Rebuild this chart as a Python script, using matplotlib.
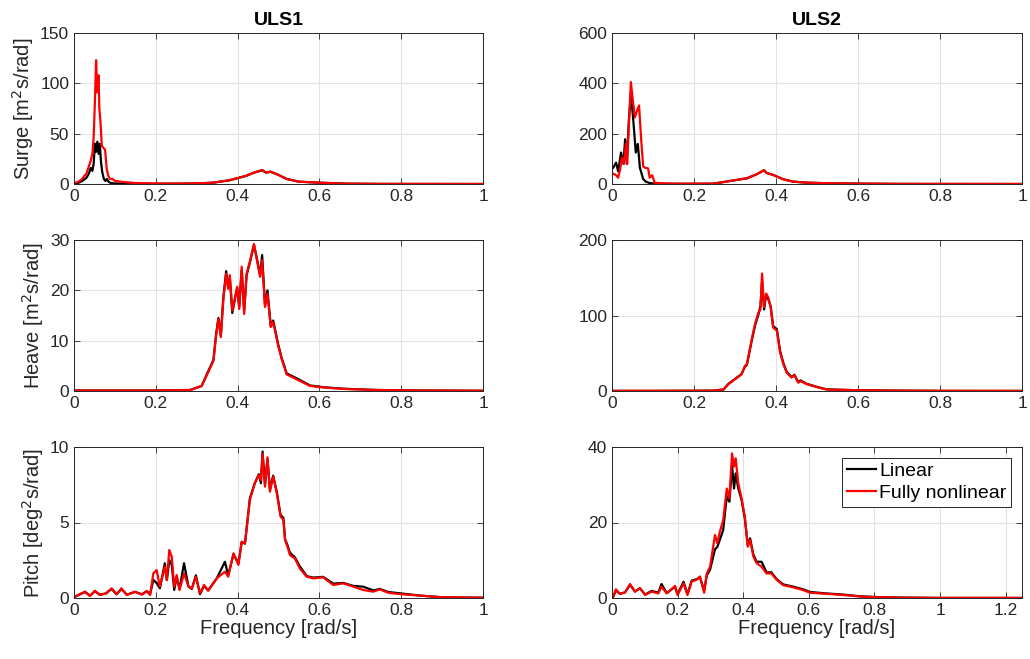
import matplotlib
matplotlib.use('Agg')
import matplotlib.pyplot as plt
from matplotlib.ticker import FuncFormatter, MultipleLocator

plt.rcParams['font.family'] = ['Liberation Sans', 'DejaVu Sans']

# ---- ULS1 surge ----
f_surge1_lin = [0, .01, .02, .03, .036, .041, .045, .048, .051, .054,
                .057, .060, .063, .066, .069, .073, .077, .08, .085, .09,
                .1, .12, .15, .2, .25, .3, .34, .38, .42, .44,
                .46, .47, .48, .5, .52, .55, .6, .67, .75, .85, 1.0]
surge1_lin = [.5, 1, 3, 6, 10, 16, 13, 20, 40, 32,
              42, 30, 40, 22, 12, 5, 3, 5, 2, 1,
              .5, .3, .2, .2, .3, .5, 1.3, 3.7, 8, 11.3,
              13.7, 11.3, 12.3, 9, 5, 2.3, 1.3, .3, .1, .05, .02]
f_surge1_nl = [0, .01, .02, .025, .03, .035, .04, .045, .048, .051,
               .054, .057, .060, .062, .065, .068, .072, .076, .08, .084,
               .088, .094, .1, .12, .15, .2, .25, .3, .34, .38,
               .42, .44, .46, .47, .48, .5, .52, .55, .6, .67, .75, .85, 1.0]
surge1_nl = [1, 2, 5, 8, 10, 16, 22, 30, 46, 80,
             123, 91, 108, 75, 60, 38, 36, 34, 15, 8,
             5, 5, 3, 2, 1, .5, .5, .6, 1.3, 3.7,
             8, 11.3, 13.7, 11.3, 12.3, 9, 5, 2.3, 1.3, .3, .1, .05, .02]

# ---- ULS2 surge ----
f_surge2_lin = [0, .003, .01, .015, .022, .028, .032, .036, .041, .046,
                .052, .058, .063, .068, .076, .082, .089, .1, .15, .2,
                .247, .288, .329, .353, .371, .377, .393, .418, .442, .475,
                .532, .613, .7, .8, 1.0]
surge2_lin = [60, 65, 85, 50, 125, 80, 178, 80, 250, 359,
              252, 125, 159, 65, 20, 10, 5, 2, 1, 1,
              1.3, 12, 22.7, 38.7, 54.7, 44, 36, 18.7, 9.3, 5.3,
              2.7, 1.3, .5, .2, .1]
f_surge2_nl = [0, .003, .01, .015, .02, .024, .029, .034, .037, .041,
               .046, .051, .056, .061, .066, .071, .076, .08, .088, .092,
               .098, .104, .12, .15, .2, .247, .288, .329, .353, .371,
               .377, .393, .418, .442, .475, .532, .613, .7, .8, 1.0]
surge2_nl = [40, 41, 35, 25, 60, 105, 80, 160, 80, 230,
             405, 330, 265, 290, 312, 180, 70, 65, 62, 25,
             35, 5, 3, 1, 1, 1.3, 12, 22.7, 38.7, 54.7,
             44, 36, 18.7, 9.3, 5.3, 2.7, 1.3, .5, .2, .1]

# ---- ULS1 heave ----
f_heave1 = [0, .1, .2, .284, .312, .328, .341, .347, .353, .359,
            .365, .372, .377, .381, .387, .394, .399, .404, .41, .416,
            .422, .43, .44, .448, .455, .46, .467, .473, .481, .487,
            .5, .508, .52, .545, .577, .61, .66, .74, .85, 1.0]
heave1_lin = [.1, .1, .1, .2, 1, 3.9, 6.2, 11, 14.5, 11,
              18.5, 23.8, 20.5, 22.5, 15.5, 18.5, 20.5, 16.8, 24, 16,
              23, 25.5, 29, 26, 23, 27, 17, 20, 13, 14,
              9, 6.5, 3.5, 2.5, 1.1, .75, .45, .2, .1, .05]
heave1_nl = [.1, .1, .1, .2, 1, 3.7, 6, 10.7, 14.3, 10.7,
             18, 23.3, 20.3, 23, 16, 18.7, 20.7, 16.3, 24.7, 15.3,
             23.3, 25.7, 29.2, 25.7, 22.7, 26, 16.7, 19.3, 12.7, 13.7,
             8.7, 6.3, 3.3, 2.3, 1, .7, .4, .2, .1, .05]

# ---- ULS2 heave ----
f_heave2 = [0, .1, .2, .247, .272, .284, .3, .316, .324, .329,
            .341, .349, .357, .362, .366, .371, .376, .381, .387, .393,
            .402, .41, .418, .426, .438, .445, .454, .46, .475, .499,
            .523, .56, .6, .7, .8, 1.0]
heave2_lin = [.2, .2, .3, .5, 2, 9.5, 16, 22.5, 32, 34.5,
              67, 87, 101, 112, 145, 108, 128, 122, 112, 86,
              82, 53, 37, 25.5, 18.5, 21.5, 12, 14, 9.5, 5.6,
              2.2, 1.6, 1, .5, .2, .1]
heave2_nl = [.2, .2, .3, .5, 2, 9, 15.6, 22, 33, 35.6,
             69, 89, 104, 108, 155.6, 111, 129, 124, 111, 84,
             80, 51, 35.6, 24.4, 17.8, 21, 11, 13, 9, 5.3,
             2, 1.5, 1, .5, .2, .1]

# ---- ULS1 pitch ----
f_pitch1 = [0, .0025, .027, .039, .051, .063, .078, .092, .104, .116,
            .129, .149, .166, .178, .186, .194, .202, .21, .222, .227,
            .233, .239, .245, .251, .258, .269, .28, .288, .298, .308,
            .318, .328, .349, .369, .377, .39, .402, .41, .418, .43,
            .442, .452, .457, .461, .467, .473, .479, .487, .496, .505,
            .512, .516, .522, .528, .54, .552, .569, .585, .609, .634,
            .658, .683, .707, .732, .748, .768, .8, .85, .9, .95, 1.0]
pitch1_lin = [.1, .09, .4, .15, .45, .22, .3, .6, .25, .6,
              .22, .4, .25, .45, .25, 1.2, 1.0, .64, 2.3, 1.19,
              2.5, 2.2, .53, 1.4, .6, 2.3, .75, .6, 1.5, .25,
              .8, .5, 1.3, 2.4, 1.5, 2.9, 2.3, 3.7, 3.6, 6.6,
              7.6, 8.2, 7.6, 9.7, 7.5, 9.2, 7.2, 8.1, 7.0, 5.5,
              5.3, 3.9, 3.5, 3.0, 2.7, 2.1, 1.45, 1.35, 1.4, .95,
              1.0, .8, .75, .5, .6, .4, .3, .15, .05, .03, .02]
pitch1_nl = [.1, .09, .42, .13, .48, .2, .3, .64, .24, .64,
             .2, .42, .22, .46, .2, 1.63, 1.85, .75, 2.07, 1.19,
             3.18, 2.74, .75, 1.52, .53, 1.63, .75, .64, 1.41, .31,
             .86, .48, 1.3, 1.74, 1.41, 2.96, 2.19, 3.73, 3.62, 6.49,
             7.6, 8.14, 7.8, 9.54, 7.37, 9.32, 7.04, 8.04, 6.93, 5.39,
             5.17, 3.84, 3.4, 2.84, 2.62, 1.96, 1.41, 1.3, 1.37, .86,
             .97, .75, .53, .42, .57, .35, .25, .15, .05, .03, .02]

# ---- ULS2 pitch ----
f_pitch2 = [0, .004, .012, .024, .04, .055, .07, .085, .101, .121,
            .141, .151, .167, .192, .2, .218, .23, .243, .258, .268,
            .281, .289, .299, .314, .321, .329, .339, .35, .358, .366,
            .372, .377, .385, .395, .405, .414, .421, .431, .441, .456,
            .471, .486, .502, .522, .553, .583, .604, .654, .705, .756,
            .807, .878, 1.0, 1.25]
pitch2_lin = [.3, .35, 2.0, 1.1, 1.5, 3.5, 1.7, 2.6, .9, 1.9,
              1.4, 3.7, 1.3, 3.0, 1.0, 4.3, 1.0, 4.6, 5.0, 5.5,
              2.0, 6.0, 7.5, 12.9, 13.5, 15.5, 18.0, 27, 25.5, 35,
              29, 33, 29, 26, 21, 14, 15.8, 11.5, 9.6, 9.6,
              6.8, 6.8, 5.0, 3.6, 3.0, 2.3, 1.6, 1.2, .9, .45,
              .25, .12, .02, .02]
pitch2_nl = [.3, .35, 2.3, 1.1, 1.5, 3.7, 1.7, 2.6, .8, 1.7,
             1.2, 3.0, 1.2, 3.2, .8, 3.9, .8, 4.4, 4.8, 5.7,
             1.4, 6.5, 8.3, 16.7, 14.5, 17.6, 20.6, 29, 26.4, 38.3,
             34.8, 37, 30.4, 26.4, 21.5, 13.6, 15.4, 11.0, 9.2, 8.3,
             6.5, 6.5, 4.8, 3.4, 2.8, 2.1, 1.4, 1.1, .8, .4,
             .2, .1, .02, .02]

titles = ['ULS1', 'ULS2']
ylabels = ['Surge [m$^2$s/rad]', 'Heave [m$^2$s/rad]', 'Pitch [deg$^2$s/rad]']
ylims = [[150, 600], [30, 200], [10, 40]]
ysteps = [[50, 200], [10, 100], [5, 20]]
xmax = [[1, 1], [1, 1], [1, 1.25]]

panels = [
    [(f_surge1_lin, surge1_lin, f_surge1_nl, surge1_nl),
     (f_surge2_lin, surge2_lin, f_surge2_nl, surge2_nl)],
    [(f_heave1, heave1_lin, f_heave1, heave1_nl),
     (f_heave2, heave2_lin, f_heave2, heave2_nl)],
    [(f_pitch1, pitch1_lin, f_pitch1, pitch1_nl),
     (f_pitch2, pitch2_lin, f_pitch2, pitch2_nl)],
]

fig = plt.figure(figsize=(10.3, 6.59), dpi=100)
lefts = [74 / 1030, 612 / 1030]
widths = [409 / 1030, 410 / 1030]
tops = [33, 240, 447]
h = 151

axc = '#262626'
fmt = FuncFormatter(lambda v, p: '%g' % round(v, 6))

for r in range(3):
    for c in range(2):
        ax = fig.add_axes([lefts[c], 1 - (tops[r] + h) / 659, widths[c], h / 659])
        fl, yl, fn, yn = panels[r][c]
        ax.plot(fl, yl, color='k', lw=1.6, label='Linear')
        ax.plot(fn, yn, color='#ff0000', lw=1.6, label='Fully nonlinear')
        ax.set_xlim(0, xmax[r][c])
        ax.set_ylim(0, ylims[r][c])
        ax.xaxis.set_major_locator(MultipleLocator(0.2))
        ax.yaxis.set_major_locator(MultipleLocator(ysteps[r][c]))
        ax.xaxis.set_major_formatter(fmt)
        ax.yaxis.set_major_formatter(fmt)
        ax.grid(True, color='#e3e3e3', lw=0.8)
        ax.set_axisbelow(True)
        ax.tick_params(direction='in', top=True, right=True, length=4,
                       width=0.6, colors=axc, labelsize=12.5, labelcolor='#262626')
        for s in ax.spines.values():
            s.set_color(axc)
            s.set_linewidth(0.7)
        if c == 0:
            ax.set_ylabel(ylabels[r], fontsize=14.5, color='#262626', labelpad=3)
        if r == 0:
            ax.set_title(titles[c], fontsize=14, fontweight='bold', pad=6)
        if r == 2:
            ax.set_xlabel('Frequency [rad/s]', fontsize=14.5, color='#262626', labelpad=1)
        if r == 2 and c == 1:
            leg = ax.legend(loc='upper right', fontsize=14, fancybox=False,
                            edgecolor=axc, framealpha=1, borderaxespad=0.55,
                            handlelength=1.5, handletextpad=0.15,
                            borderpad=0.25, labelspacing=0.2)
            leg.get_frame().set_linewidth(0.7)

fig.savefig('out.png', dpi=100)
